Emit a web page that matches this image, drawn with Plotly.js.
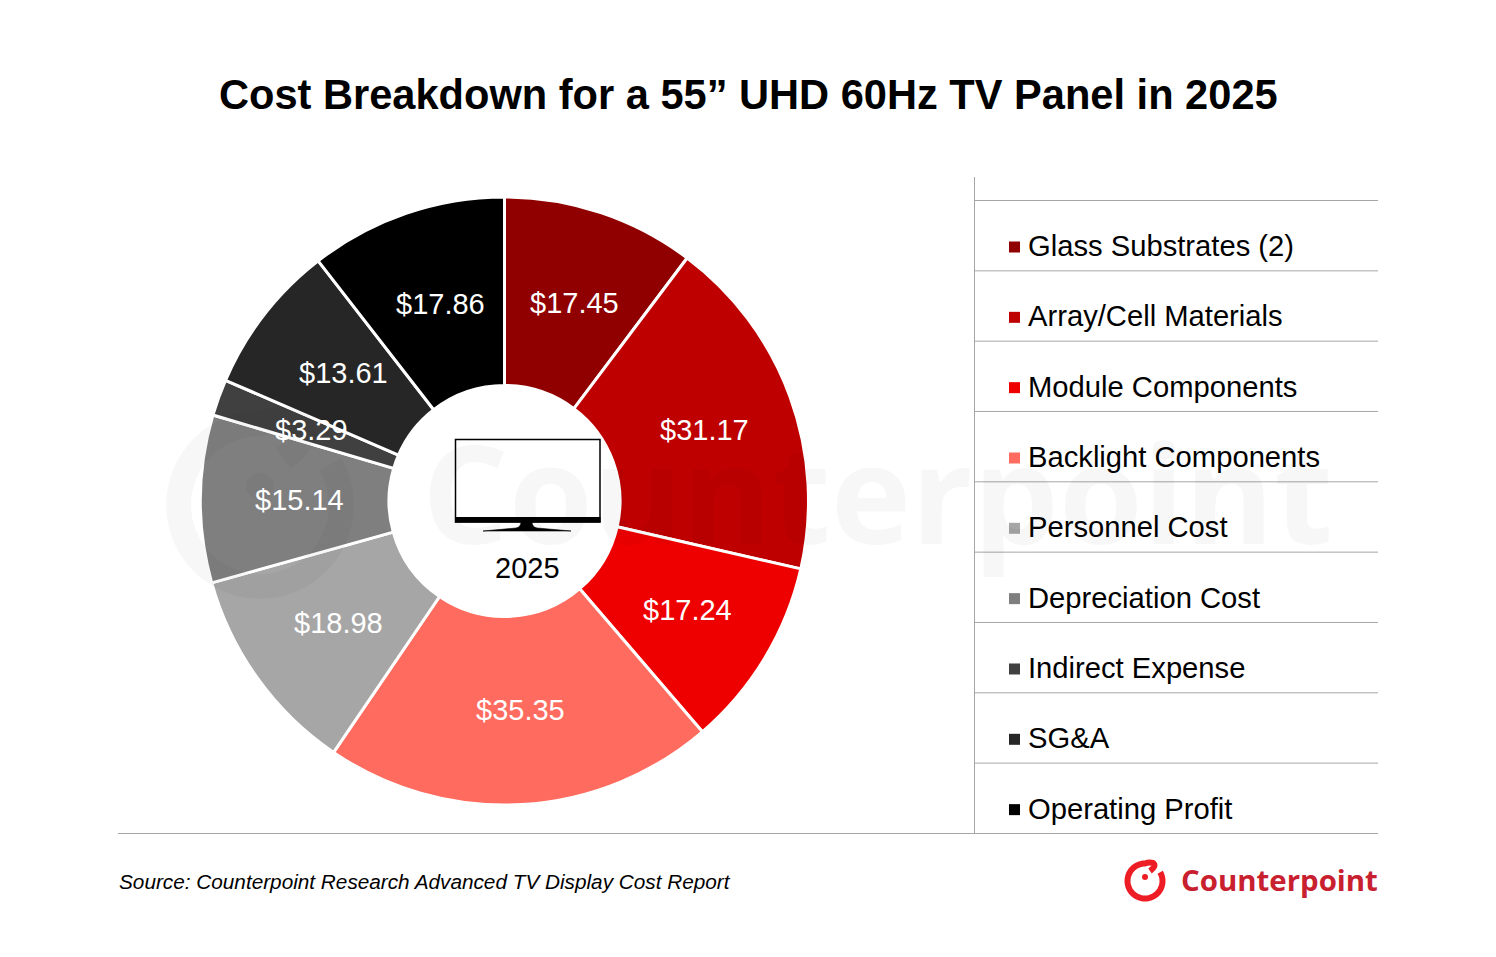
<!DOCTYPE html>
<html>
<head>
<meta charset="utf-8">
<script src="https://cdn.plot.ly/plotly-3.0.1.min.js"></script>
<style>
    body { margin: 0; background: #fff; }
</style>
</head>
<body>
<div id="chart"></div>
<script>
var categories = ['Glass Substrates (2)', 'Array/Cell Materials', 'Module Components', 'Backlight Components',
    'Personnel Cost', 'Depreciation Cost', 'Indirect Expense', 'SG&A', 'Operating Profit'];
var costs = [17.45, 31.17, 17.24, 35.35, 18.98, 15.14, 3.29, 13.61, 17.86];
var colors = ['#900000', '#BE0000', '#EE0000', '#FF6B5E', '#A6A6A6', '#7F7F7F', '#404040', '#262626', '#000000'];

var W = 1496, H = 957;
var FONT = '"Liberation Sans", Arial, sans-serif';
var GREY = '#A6A6A6';
var RED = '#C8202F';

// pie box in pixels
var pieLeft = 200.5, pieTop = 197, pieSize = 608;

// legend rows
var rowTop = 200.5, rowH = 70.33;

var shapes = [];
var annotations = [];

function hline(x0, x1, y) {
    shapes.push({type: 'line', xref: 'x', yref: 'y', x0: x0, x1: x1, y0: y, y1: y, line: {color: GREY, width: 1}});
}

function note(x, y, anchor, text, font) {
    annotations.push({
        xref: 'x', yref: 'y', x: x, y: y, xanchor: anchor, yanchor: 'middle',
        showarrow: false, text: text, font: font
    });
}

// ring with a hook at the top, plotly shapes don't do arcs so it's a polyline
function logo(cx, cy, k, color, width) {
    var p = function (dx, dy) { return (cx + dx * k) + ' ' + (cy + dy * k); };
    var d = 'M ' + p(5, -10) + ' Q ' + p(12, -15) + ' ' + p(8, -18) + ' Q ' + p(4, -19) + ' ' + p(0, -17.5);
    for (var s = 1; s <= 60; s++) {
        var a = s / 60 * 300 * Math.PI / 180;
        d += ' L ' + p(-17.5 * Math.sin(a), -17.5 * Math.cos(a));
    }
    shapes.push({
        type: 'path', xref: 'x', yref: 'y', path: d,
        line: {color: color, width: width}, fillcolor: 'rgba(0,0,0,0)'
    });
    shapes.push({
        type: 'circle', xref: 'x', yref: 'y',
        x0: cx - 3 * k, x1: cx + 3 * k, y0: cy - 7 * k, y1: cy - 1 * k,
        fillcolor: color, line: {width: 0}
    });
}

// legend frame
shapes.push({type: 'line', xref: 'x', yref: 'y', x0: 974.5, x1: 974.5, y0: 177, y1: 833, line: {color: GREY, width: 1}});
hline(118, 1378, 833.5);
for (var i = 0; i < categories.length; i++) {
    hline(975, 1378, rowTop + i * rowH);
}

var legendX = [], legendY = [];
for (var j = 0; j < categories.length; j++) {
    legendX.push(1014.5);
    legendY.push(rowTop + j * rowH + 46.5);
    note(1026, rowTop + j * rowH + 45.5, 'left', categories[j].replace('&', '&amp;'), {family: FONT, size: 29.2, color: '#000'});
}

// tv icon in the hole
shapes.push({type: 'rect', xref: 'x', yref: 'y', x0: 455.5, x1: 600, y0: 439.5, y1: 522, line: {color: '#000', width: 1.5}, fillcolor: 'rgba(255,255,255,0)'});
shapes.push({type: 'rect', xref: 'x', yref: 'y', x0: 455, x1: 600.5, y0: 517, y1: 522.5, line: {width: 0}, fillcolor: '#000'});
shapes.push({
    type: 'path', xref: 'x', yref: 'y',
    path: 'M 521 522 Q 521 527 516 528 L 483 531 L 571 531 L 537 528 Q 532 527 532 522 Z',
    line: {color: '#000', width: 0.6}, fillcolor: '#000'
});

// watermark
logo(260, 505, 4.65, 'rgba(0,0,0,0.03)', 25);
note(877, 491, 'center', '<b>Counterpoint</b>', {family: '"Open Sans", sans-serif', size: 136, color: 'rgba(0,0,0,0.03)'});

// company logo
logo(1145, 881, 1, '#EE1C25', 6);
note(1380, 880, 'right', '<b>Counterpoint</b>', {family: '"Open Sans", sans-serif', size: 29.4, color: RED});

note(527, 568, 'center', '2025', {family: FONT, size: 29, color: '#000'});
note(117, 881.5, 'left', '<i>Source: Counterpoint Research Advanced TV Display Cost Report</i>', {family: FONT, size: 20.75, color: '#000'});
note(748.5, 94, 'center', '<b>Cost Breakdown for a 55” UHD 60Hz TV Panel in 2025</b>', {family: FONT, size: 41.6, color: '#000'});

// value labels sit on the middle of the ring, at each slice's mid angle
var total = costs.reduce(function (a, b) { return a + b; }, 0);
var running = 0;
costs.forEach(function (c) {
    var mid = (running + c / 2) / total * 2 * Math.PI;
    running += c;
    note(508.5 + 209 * Math.sin(mid), 501.5 - 209 * Math.cos(mid), 'center', '$' + c.toFixed(2), {family: FONT, size: 29, color: '#fff'});
});

var pie = {
    type: 'pie',
    labels: categories,
    values: costs,
    sort: false,
    direction: 'clockwise',
    rotation: 0,
    hole: 0.38,
    domain: {x: [pieLeft / W, (pieLeft + pieSize) / W], y: [1 - (pieTop + pieSize) / H, 1 - pieTop / H]},
    marker: {colors: colors, line: {color: '#fff', width: 3}},
    textinfo: 'none',
    hoverinfo: 'label+value',
    showlegend: false
};

var swatches = {
    type: 'scatter',
    mode: 'markers',
    x: legendX,
    y: legendY,
    marker: {symbol: 'square', size: 11, color: colors},
    hoverinfo: 'skip',
    showlegend: false
};

var layout = {
    width: W,
    height: H,
    margin: {l: 0, r: 0, t: 0, b: 0},
    paper_bgcolor: '#fff',
    plot_bgcolor: 'rgba(0,0,0,0)',
    showlegend: false,
    xaxis: {visible: false, range: [0, W], fixedrange: true},
    yaxis: {visible: false, range: [H, 0], fixedrange: true},
    shapes: shapes,
    annotations: annotations
};

Plotly.newPlot('chart', [swatches, pie], layout, {displayModeBar: false});
</script>
</body>
</html>
